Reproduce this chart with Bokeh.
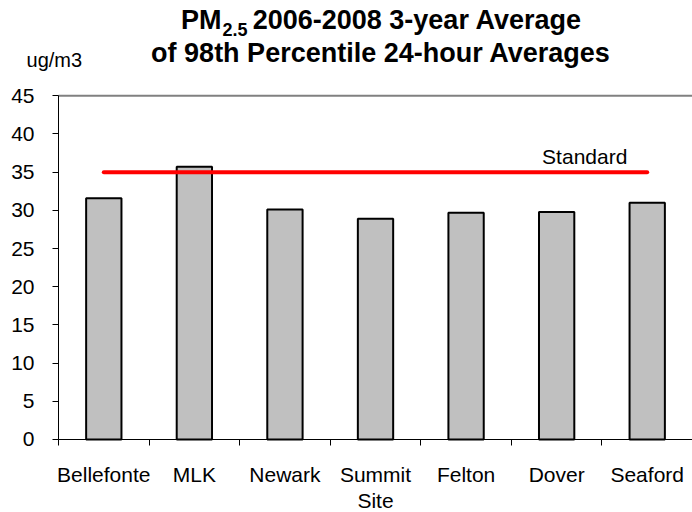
from bokeh.plotting import figure
from bokeh.models import (ColumnDataSource, FixedTicker, Range1d, Label)
from bokeh.embed import file_html
from bokeh.resources import INLINE

# PM2.5 3-year average of 98th percentile 24-hour values, by monitoring site
sites = ["Bellefonte", "MLK", "Newark", "Summit", "Felton", "Dover", "Seaford"]
pm25 = [31.6, 35.7, 30.1, 28.9, 29.7, 29.8, 31.0]
standard = 35
y_ticks = [0, 5, 10, 15, 20, 25, 30, 35, 40, 45]
y_max = 45

FONT = "Liberation Sans"

positions = list(range(1, len(sites) + 1))
x_lo, x_hi = 0.5, len(sites) + 0.5
src = ColumnDataSource(dict(x=positions, site=sites, value=pm25))

# The frame fills the whole canvas; the axes are pinned to the data area so
# that the titles around it can be drawn as plain labels.
p = figure(width=692, height=512, output_backend="svg", toolbar_location=None,
           x_range=Range1d(-0.1406, x_hi), y_range=Range1d(-9.56, 57.48),
           min_border=0)
p.outline_line_color = None
p.xgrid.grid_line_color = None
p.ygrid.grid_line_color = None
p.background_fill_color = "white"
p.border_fill_color = "white"

# top border of the data area
p.line(x=[x_lo, x_hi], y=[y_max, y_max], line_color="#808080", line_width=2)

p.vbar(x="x", top="value", width=0.39, bottom=0, source=src,
       fill_color="#c0c0c0", line_color="black", line_width=2)

# standard line spanning first to last site
p.line(x=[positions[0], positions[-1]], y=[standard, standard],
       line_color="#ff0000", line_width=4, line_cap="round")
p.add_layout(Label(x=6.31, y=37.0, text="Standard", text_align="center",
                   text_baseline="alphabetic",
                   text_font=FONT, text_font_size="21px", text_color="black"))

# x axis: labels at site centres, tick marks between sites
xa = p.xaxis[0]
xa.fixed_location = 0
xa.bounds = (x_lo, x_hi)
xa.ticker = FixedTicker(ticks=positions,
                        minor_ticks=[i + 0.5 for i in range(len(sites) + 1)])
xa.major_label_overrides = {i: s for i, s in zip(positions, sites)}
xa.major_tick_out = 0
xa.major_tick_in = 0
xa.minor_tick_out = 6
xa.minor_tick_in = 0
xa.minor_tick_line_color = "black"
xa.axis_line_color = "black"
xa.major_label_text_font = FONT
xa.major_label_text_font_size = "21px"
xa.major_label_text_color = "black"
xa.major_label_standoff = 18

ya = p.yaxis[0]
ya.fixed_location = x_lo
ya.bounds = (0, y_max)
ya.ticker = FixedTicker(ticks=y_ticks)
ya.minor_tick_line_color = None
ya.major_tick_out = 6
ya.major_tick_in = 0
ya.axis_line_color = "black"
ya.major_label_text_font = FONT
ya.major_label_text_font_size = "21px"
ya.major_label_text_color = "black"
ya.major_label_standoff = 18

# x axis title
p.add_layout(Label(x=4.0, y=-7.95, text="Site", text_align="center",
                   text_baseline="alphabetic", text_font=FONT,
                   text_font_size="21px", text_color="black"))

# chart title, with subscripted 2.5
title_kw = dict(text_font=FONT, text_font_style="bold", text_color="black",
                text_baseline="alphabetic")
p.add_layout(Label(x=2.30, y=54.95, text="PM", text_align="right",
                   text_font_size="27px", **title_kw))
p.add_layout(Label(x=2.31, y=53.65, text="2.5", text_align="left",
                   text_font_size="18px", **title_kw))
p.add_layout(Label(x=2.644, y=54.95, text="2006-2008 3-year Average",
                   text_align="left", text_font_size="27px", **title_kw))
p.add_layout(Label(x=4.06, y=50.63, text="of 98th Percentile 24-hour Averages",
                   text_align="center", text_font_size="27px", **title_kw))

# unit label
p.add_layout(Label(x=0.147, y=49.65, text="ug/m3", text_align="left",
                   text_baseline="alphabetic", text_font=FONT,
                   text_font_size="20px", text_color="black"))

open("out.html", "w").write(file_html(p, INLINE))
